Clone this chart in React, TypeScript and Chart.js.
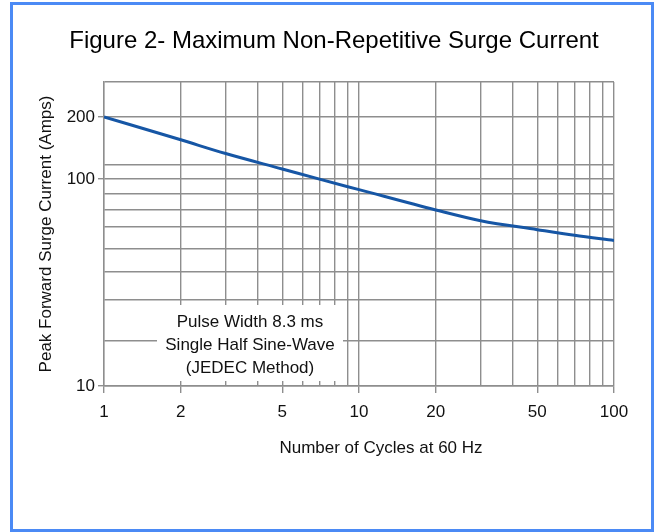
import React, { useEffect, useRef } from "react";
import { Chart, registerables } from "chart.js";

Chart.register(...registerables);

// ---- text ----
const TITLE = "Figure 2- Maximum Non-Repetitive Surge Current";
const X_TITLE = "Number of Cycles at 60 Hz";
const Y_TITLE = "Peak Forward Surge Current (Amps)";
const NOTE_LINES = ["Pulse Width 8.3 ms", "Single Half Sine-Wave", "(JEDEC Method)"];

// ---- data ----
const cycles = [1, 2, 3, 5, 7, 10, 20, 30, 50, 70, 100];
const surgeAmps = [200, 155, 133, 112, 100, 89, 71, 63, 57, 53.5, 50.5];

// ---- axes ----
const xGridValues = [1, 2, 3, 4, 5, 6, 7, 8, 9, 10, 20, 30, 40, 50, 60, 70, 80, 90, 100];
const xLabelValues = [1, 2, 5, 10, 20, 50, 100];
const yGridValues = [10, 16.5, 26, 35.5, 46, 59, 71, 85, 100, 118, 200, 295];
const yLabelValues = [10, 100, 200];
const X_MIN = 1;
const X_MAX = 100;
const Y_MIN = 10;
const Y_MAX = 295;

const FONT = "'Liberation Sans', Arial, Helvetica, sans-serif";
const GRID = "#8e8e8e";
const LINE = "#1656a5";
const TEXT = "#111111";

const textPlugin = {
  id: "titlesAndNote",
  afterDatasetsDraw(chart: any) {
    const { ctx, chartArea } = chart;
    const cx = chartArea.left + 146;
    const b = chartArea.bottom;
    ctx.save();
    // note box
    ctx.fillStyle = "#ffffff";
    ctx.fillRect(cx - 93, b - 81, 186, 76);
    ctx.fillStyle = TEXT;
    ctx.font = `17px ${FONT}`;
    ctx.textAlign = "center";
    ctx.textBaseline = "middle";
    const offs = [-64, -41, -18];
    NOTE_LINES.forEach((t, i) => ctx.fillText(t, cx, b + offs[i]));
    // x-axis title
    const xc = (chartArea.left + chartArea.right) / 2 + 22;
    ctx.fillText(X_TITLE, xc, b + 62);
    // main title
    ctx.fillStyle = "#000000";
    ctx.font = `24px ${FONT}`;
    ctx.fillText(TITLE, chart.width / 2 + 3, chartArea.top - 41);
    ctx.restore();
  },
};

export default function App() {
  const ref = useRef<HTMLCanvasElement>(null);

  useEffect(() => {
    const chart = new Chart(ref.current as HTMLCanvasElement, {
      type: "line",
      data: {
        datasets: [
          {
            data: cycles.map((c, i) => ({ x: c, y: surgeAmps[i] })),
            borderColor: LINE,
            borderWidth: 3,
            pointRadius: 0,
            cubicInterpolationMode: "monotone",
            fill: false,
          },
        ],
      },
      options: {
        responsive: false,
        animation: false,
        layout: { padding: { left: 0, right: 48, top: 82, bottom: 96 } },
        plugins: {
          legend: { display: false },
          tooltip: { enabled: false },
          title: { display: false },
        },
        scales: {
          x: {
            type: "logarithmic",
            min: X_MIN,
            max: X_MAX,
            afterBuildTicks: (s: any) => {
              s.ticks = xGridValues.map((v) => ({ value: v }));
            },
            afterFit: (s: any) => {
              s.height = 50;
            },
            ticks: {
              autoSkip: false,
              maxRotation: 0,
              minRotation: 0,
              padding: 9,
              color: TEXT,
              font: { family: FONT, size: 17 },
              callback: (v: any) => (xLabelValues.includes(Number(v)) ? String(v) : ""),
            },
            grid: {
              color: GRID,
              lineWidth: 1.4,
              tickLength: 7,
              tickColor: (ctx: any) =>
                ctx.tick && xLabelValues.includes(ctx.tick.value) ? GRID : "rgba(0,0,0,0)",
            },
            border: { display: true, color: GRID, width: 1.4 },
          },
          y: {
            type: "logarithmic",
            min: Y_MIN,
            max: Y_MAX,
            afterBuildTicks: (s: any) => {
              s.ticks = yGridValues.map((v) => ({ value: v }));
            },
            afterFit: (s: any) => {
              s.width = 104;
            },
            ticks: {
              autoSkip: false,
              padding: 3,
              color: TEXT,
              font: { family: FONT, size: 17 },
              callback: (v: any) => (yLabelValues.includes(Number(v)) ? String(v) : ""),
            },
            grid: {
              color: GRID,
              lineWidth: 1.4,
              tickLength: 6,
              tickColor: (ctx: any) =>
                ctx.tick && yLabelValues.includes(ctx.tick.value) ? GRID : "rgba(0,0,0,0)",
            },
            border: { display: true, color: GRID, width: 1.4 },
            title: {
              display: true,
              text: Y_TITLE,
              color: TEXT,
              font: { family: FONT, size: 17 },
              padding: { top: 36, bottom: 0 },
            },
          },
        },
      },
      plugins: [textPlugin],
    } as any);
    return () => chart.destroy();
  }, []);

  return (
    <div
      style={{
        position: "absolute",
        left: 0,
        top: 0,
        width: 662,
        height: 532,
        background: "#ffffff",
      }}
    >
      <canvas
        ref={ref}
        width={662}
        height={532}
        style={{ position: "absolute", left: 0, top: 0, width: 662, height: 532 }}
      />
      <div
        style={{
          position: "absolute",
          left: 10,
          top: 2,
          width: 644,
          height: 530,
          border: "3px solid #4b8af5",
          boxSizing: "border-box",
          pointerEvents: "none",
        }}
      />
    </div>
  );
}
